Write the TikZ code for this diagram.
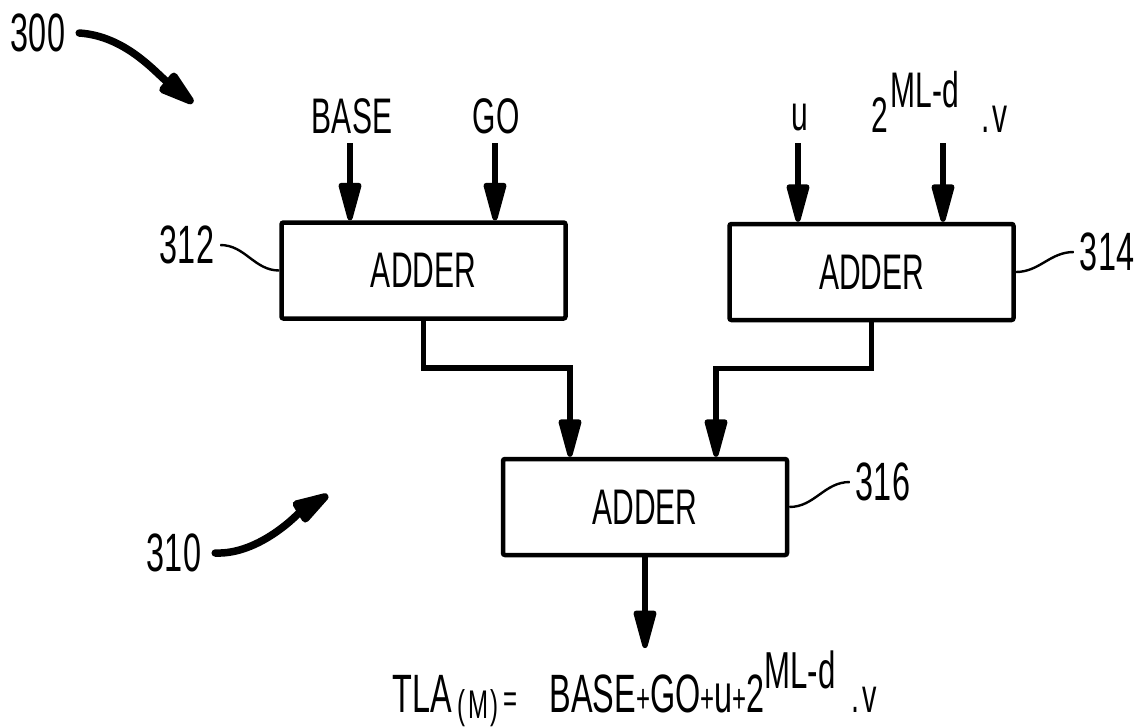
\documentclass[tikz,border=0pt]{standalone}
\usepackage{fontspec}
\setmainfont{Liberation Sans}[FakeStretch=0.6]
\usetikzlibrary{arrows.meta}
\begin{document}
\begin{tikzpicture}[x=1pt,y=-1pt,
  adder/.style={draw,line width=4.5pt,rounded corners=2pt,minimum width=284pt,minimum height=96pt,inner sep=0pt,font=\fontsize{50}{55}\selectfont},
  conn/.style={line width=5.5pt,-{Triangle[width=23pt,length=46pt,round]}},
  inlabel/.style={inner sep=0pt,font=\fontsize{50}{56}\selectfont},
  num/.style={inner sep=0pt,font=\fontsize{54}{60}\selectfont},
  leader/.style={line width=2.4pt},
  bigarr/.style={line width=7.5pt,line cap=round,-{Triangle[width=25pt,length=46pt,round]}}
]
\useasboundingbox (0,0) rectangle (1148,726);

% boxes
\node[adder] (b312) at (423.5,270.5) {ADDER};
\node[adder] (b314) at (871.5,272) {ADDER};
\node[adder] (b316) at (645,507) {ADDER};

% input labels
\node[inlabel,anchor=base] (tBASE) at (352,133) {BASE};
\node[inlabel,anchor=base] (tGO) at (496,133) {GO};
\node[inlabel,anchor=base] (tu) at (800,130) {u};
\node[inlabel,anchor=base west] (tpow) at (871,132) {2\hspace{3pt}\raisebox{25pt}{ML-d}\hspace{22pt}.\hspace{3pt}v};

% input arrows
\coordinate (in1) at (350,143);
\coordinate (in2) at (495,143);
\coordinate (in3) at (798,143);
\coordinate (in4) at (943,143);
\draw[conn] (in1) -- (in1 |- b312.north);
\draw[conn] (in2) -- (in2 |- b312.north);
\draw[conn] (in3) -- (in3 |- b314.north);
\draw[conn] (in4) -- (in4 |- b314.north);

% box to box
\coordinate (j1) at (570,457);
\coordinate (j2) at (716,457);
\draw[conn] (b312.south) -- ++(0,47) -| (j1 |- b316.north);
\draw[conn] (b314.south) -- ++(0,46) -| (j2 |- b316.north);

% output
\coordinate (out) at (645,648);
\draw[conn] (b316.south) -- (out);

% formula
\node[inner sep=0pt,anchor=base west,font=\fontsize{54}{60}\selectfont] (formula) at (392,712)
  {TLA\hspace{6pt}\raisebox{-6pt}{\fontsize{40}{40}\selectfont (\hspace{3pt}M\hspace{2pt})}\hspace{5pt}{\fontsize{40}{40}\selectfont =}\hspace{32pt}BASE{\fontsize{40}{40}\selectfont +}GO{\fontsize{40}{40}\selectfont +}u{\fontsize{40}{40}\selectfont +}2\raisebox{24pt}{\fontsize{52}{56}\selectfont ML-d}{\fontsize{48}{50}\selectfont\hspace{16pt}.\hspace{3pt}v}};

% reference numerals
\node[num] (n300) at (38,33) {300};
\node[num] (n310) at (174,553) {310};
\node[num] (n312) at (187,245) {312};
\node[num] (n314) at (1107,252) {314};
\node[num] (n316) at (883,482) {316};

% leaders
\draw[leader] ([xshift=6pt]n312.east) to[out=0,in=180] (b312.west);
\draw[leader] (b314.east) to[out=0,in=180] ([xshift=-6pt]n314.west);
\draw[leader] (b316.east) to[out=0,in=180] ([xshift=-6pt]n316.west);

% curved arrows
\coordinate (t300) at (193,103);
\coordinate (t310) at (328,495);
\draw[bigarr] ([xshift=14pt]n300.east) .. controls (125,36) and (155,72) .. (t300);
\draw[bigarr] ([xshift=14pt]n310.east) .. controls (260,555) and (300,512) .. (t310);
\end{tikzpicture}
\end{document}
